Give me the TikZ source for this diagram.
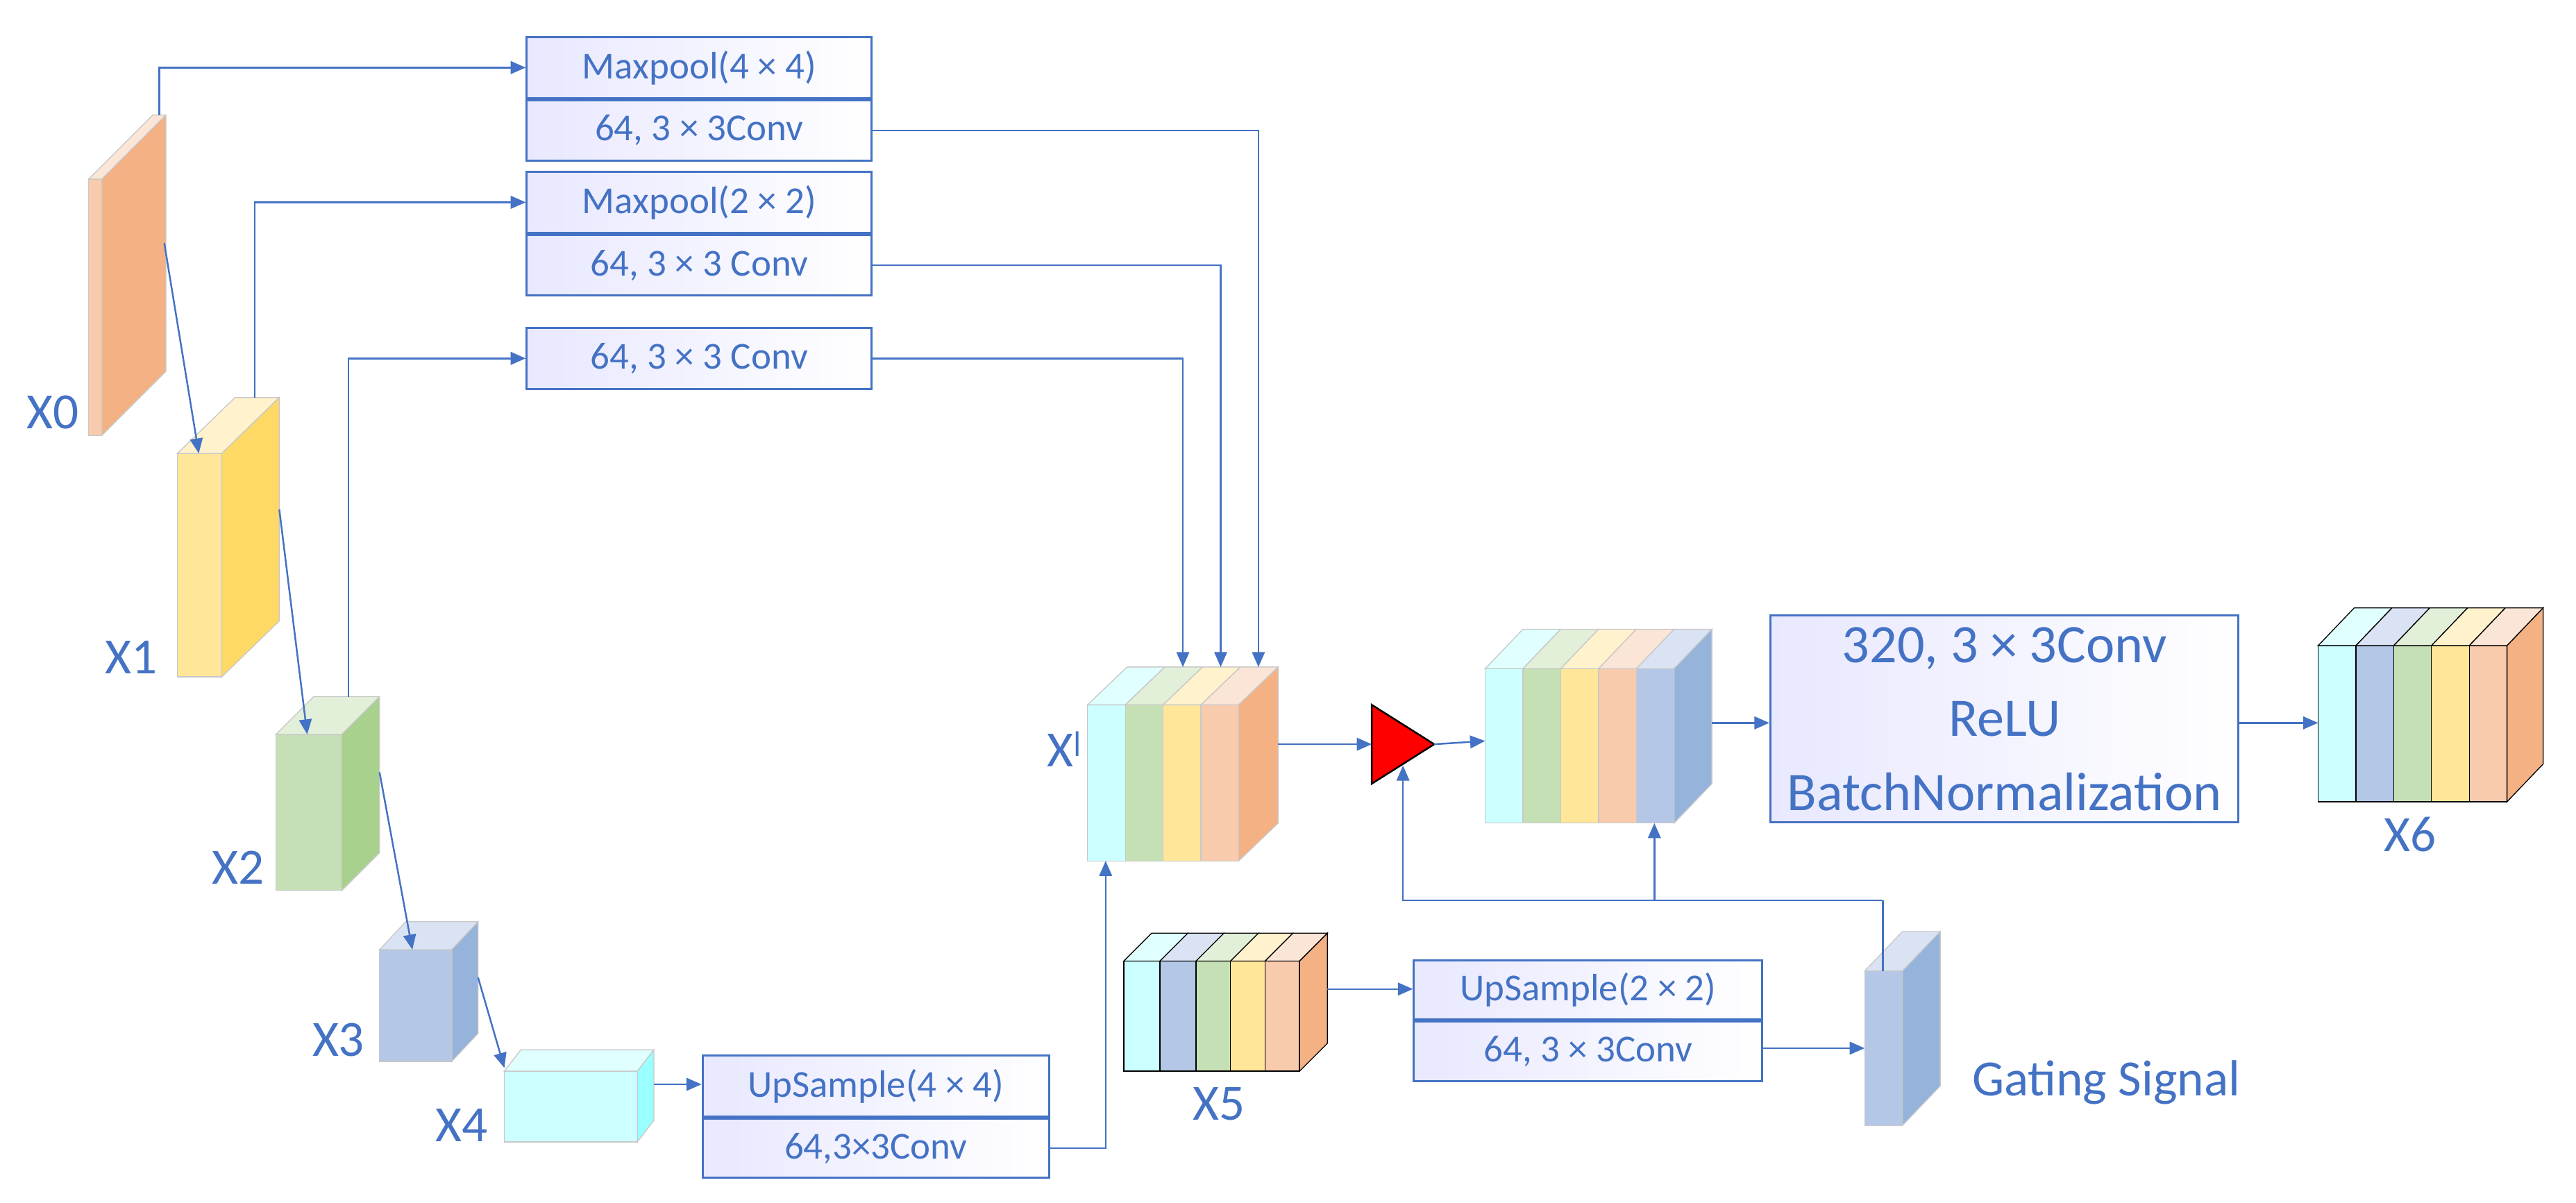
\documentclass[tikz,border=0pt]{standalone}
\usepackage{fontspec}
\setmainfont{Carlito}
\usetikzlibrary{arrows.meta}
\definecolor{tb}{HTML}{4472C4}
\definecolor{cyF}{HTML}{CCFFFF}\definecolor{cyT}{HTML}{E0FFFF}\definecolor{cyS}{HTML}{99FFFF}
\definecolor{grF}{HTML}{C5E0B4}\definecolor{grT}{HTML}{E2F0D9}\definecolor{grS}{HTML}{A9D18E}
\definecolor{yeF}{HTML}{FFE699}\definecolor{yeT}{HTML}{FFF2CC}\definecolor{yeS}{HTML}{FFD966}
\definecolor{peF}{HTML}{F8CBAD}\definecolor{peT}{HTML}{FBE5D6}\definecolor{orS}{HTML}{F4B183}
\definecolor{blF}{HTML}{B4C7E7}\definecolor{blT}{HTML}{DAE3F3}\definecolor{blS}{HTML}{95B3DB}
\definecolor{edge}{HTML}{C8C8C8}
% slice: x y w h dx dy front top bordercolor
\newcommand\slc[9]{%
  \fill[#7,draw=#9,line width=0.8pt] (#1,#2) rectangle ++(#3,#4);
  \fill[#8,draw=#9,line width=0.8pt] (#1,#2) -- ++(#5,-#6) -- ++(#3,0) -- ++(-#5,#6) -- cycle;}
% side: x(right) y h dx dy color border
\newcommand\sde[7]{%
  \fill[#6,draw=#7,line width=0.8pt] (#1,#2) -- ++(#4,-#5) -- ++(0,#3) -- ++(-#4,#5) -- cycle;}
\begin{document}
\begin{tikzpicture}[x=0.05cm,y=-0.05cm,
  lab/.style={text=tb,font=\fontsize{44}{50}\selectfont},
  bx/.style={draw=tb,line width=1.8pt,left color=blue!9,right color=white,minimum width=210*1.4226pt,text=tb,font=\fontsize{33}{38}\selectfont,anchor=north west,inner sep=0pt},
  ar/.style={draw=tb,line width=1.5pt,-{Triangle[length=13pt,width=11pt]}},
  ln/.style={draw=tb,line width=1.5pt}]
\useasboundingbox (0,0) rectangle (1568,732);
% X0
\slc{54}{109}{8}{156}{39}{39}{peF}{peT}{edge}\sde{62}{109}{156}{39}{39}{orS}{edge}
% X1
\slc{108}{276}{27}{136}{35}{34}{yeF}{yeT}{edge}\sde{135}{276}{136}{35}{34}{yeS}{edge}
% X2
\slc{168}{447}{40}{95}{23}{23}{grF}{grT}{edge}\sde{208}{447}{95}{23}{23}{grS}{edge}
% X3
\slc{231}{578}{44}{68}{16}{17}{blF}{blT}{edge}\sde{275}{578}{68}{16}{17}{blS}{edge}
% X4
\slc{307}{652}{81}{43}{10}{13}{cyF}{cyT}{edge}\sde{388}{652}{43}{10}{13}{cyS}{edge}
% Xl
\slc{662}{429}{23}{95}{24}{23}{cyF}{cyT}{edge}
\slc{685}{429}{23}{95}{24}{23}{grF}{grT}{edge}
\slc{708}{429}{23}{95}{24}{23}{yeF}{yeT}{edge}
\slc{731}{429}{23}{95}{24}{23}{peF}{peT}{edge}
\sde{754}{429}{95}{24}{23}{orS}{edge}
% C
\slc{904}{407}{23}{94}{23}{24}{cyF}{cyT}{edge}
\slc{927}{407}{23}{94}{23}{24}{grF}{grT}{edge}
\slc{950}{407}{23}{94}{23}{24}{yeF}{yeT}{edge}
\slc{973}{407}{23}{94}{23}{24}{peF}{peT}{edge}
\slc{996}{407}{23}{94}{23}{24}{blF}{blT}{edge}
\sde{1019}{407}{94}{23}{24}{blS}{edge}
% X5
\slc{684}{585}{22}{67}{17}{17}{cyF}{cyT}{black}
\slc{706}{585}{22}{67}{17}{17}{blF}{blT}{black}
\slc{728}{585}{21}{67}{17}{17}{grF}{grT}{black}
\slc{749}{585}{21}{67}{17}{17}{yeF}{yeT}{black}
\slc{770}{585}{21}{67}{17}{17}{peF}{peT}{black}
\sde{791}{585}{67}{17}{17}{orS}{black}
% Gating
\slc{1135}{591}{23}{94}{23}{24}{blF}{blT}{edge}\sde{1158}{591}{94}{23}{24}{blS}{edge}
% X6
\slc{1411}{393}{23}{95}{22}{23}{cyF}{cyT}{black}
\slc{1434}{393}{23}{95}{22}{23}{blF}{blT}{black}
\slc{1457}{393}{23}{95}{22}{23}{grF}{grT}{black}
\slc{1480}{393}{23}{95}{22}{23}{yeF}{yeT}{black}
\slc{1503}{393}{23}{95}{22}{23}{peF}{peT}{black}
\sde{1526}{393}{95}{22}{23}{orS}{black}
% triangle
\draw[fill=red,line width=1.5pt] (835,429) -- (873,453) -- (835,477) -- cycle;
\coordinate (tri) at (835,453); \coordinate (tip) at (873,453); \coordinate (trib) at (854,466);
% boxes
\node[bx,minimum height=37*1.4226pt] (a1) at (320,22) {Maxpool(4 × 4)};
\node[bx,minimum height=37*1.4226pt,anchor=north] (a2) at (a1.south) {64, 3 × 3Conv};
\node[bx,minimum height=37*1.4226pt] (b1) at (320,104) {Maxpool(2 × 2)};
\node[bx,minimum height=37*1.4226pt,anchor=north] (b2) at (b1.south) {64, 3 × 3 Conv};
\node[bx,minimum height=37*1.4226pt] (c1) at (320,199) {64, 3 × 3 Conv};
\node[bx,minimum height=37*1.4226pt,minimum width=211*1.4226pt] (d1) at (427,642) {UpSample(4 × 4)};
\node[bx,minimum height=36*1.4226pt,minimum width=211*1.4226pt,anchor=north] (d2) at (d1.south) {64,3×3Conv};
\node[bx,minimum height=36*1.4226pt,minimum width=212*1.4226pt] (e1) at (860,584) {UpSample(2 × 2)};
\node[bx,minimum height=36*1.4226pt,minimum width=212*1.4226pt,anchor=north] (e2) at (e1.south) {64, 3 × 3Conv};
\node[bx,minimum height=126*1.4226pt,minimum width=285*1.4226pt,align=center,font=\fontsize{47}{64}\selectfont] (f) at (1077,374) {320, 3 × 3Conv\\ReLU\\BatchNormalization};
% labels
\node[lab] (l0) at (32,251) {X0};
\node[lab] (l1) at (80,400) {X1};
\node[lab] (l2) at (145,528) {X2};
\node[lab] (l3) at (206,633) {X3};
\node[lab] (l4) at (281,685) {X4};
\node[lab] (ll) at (648,456) {X$^{\mathsf{l}}$};
\node[lab] (l5) at (742,672) {X5};
\node[lab] (l6) at (1467,508) {X6};
\node[lab] (lg) at (1282,659) {Gating Signal};
% coordinates
\coordinate (x0t) at (97,70); \coordinate (x0r) at (100,148); \coordinate (x1t) at (121,276);
\coordinate (x1u) at (155,242); \coordinate (x1r) at (170,310); \coordinate (x2t) at (187,447);
\coordinate (x2u) at (212,424); \coordinate (x2r) at (231,470); \coordinate (x3t) at (251,578);
\coordinate (x3r) at (291,595); \coordinate (x4t) at (307,650);
\coordinate (x4r) at (398,660);
\coordinate (xla) at (720,406); \coordinate (xlb) at (743,406); \coordinate (xlc) at (766,406);
\coordinate (xlbot) at (673,524); \coordinate (xlr) at (778,453);
\coordinate (cl) at (904,451); \coordinate (cr) at (1042,440); \coordinate (cb) at (1007,501);
\coordinate (x5r) at (808,602); \coordinate (gl) at (1135,638); \coordinate (gt) at (1146,591);
\coordinate (x6l) at (1411,440);
% connectors
\draw[ar] (x0t) |- (a1.west);
\draw[ar] (x0r) -- (x1t);
\draw[ar] (x1u) |- (b1.west);
\draw[ar] (x1r) -- (x2t);
\draw[ar] (x2u) |- (c1.west);
\draw[ar] (x2r) -- (x3t);
\draw[ar] (x3r) -- (x4t);
\draw[ar] (a2.east) -| (xlc);
\draw[ar] (b2.east) -| (xlb);
\draw[ar] (c1.east) -| (xla);
\draw[ar] (x4r) -- (x4r-|d1.west);
\draw[ar] (d2.east) -| (xlbot);
\draw[ar] (xlr) -- (tri);
\draw[ar] (tip) -- (cl);
\draw[ar] (cr) -- (cr-|f.west);
\draw[ar] (f.east|-x6l) -- (x6l);
\draw[ar] (x5r) -- (x5r-|e1.west);
\draw[ar] (e2.east|-gl) -- (gl);
\coordinate (gup) at (1146,548);
\draw[ln] (gt) -- (gup);
\draw[ar] (gup) -| (trib);
\draw[ar] (gup-|cb) -- (cb);
\end{tikzpicture}
\end{document}
